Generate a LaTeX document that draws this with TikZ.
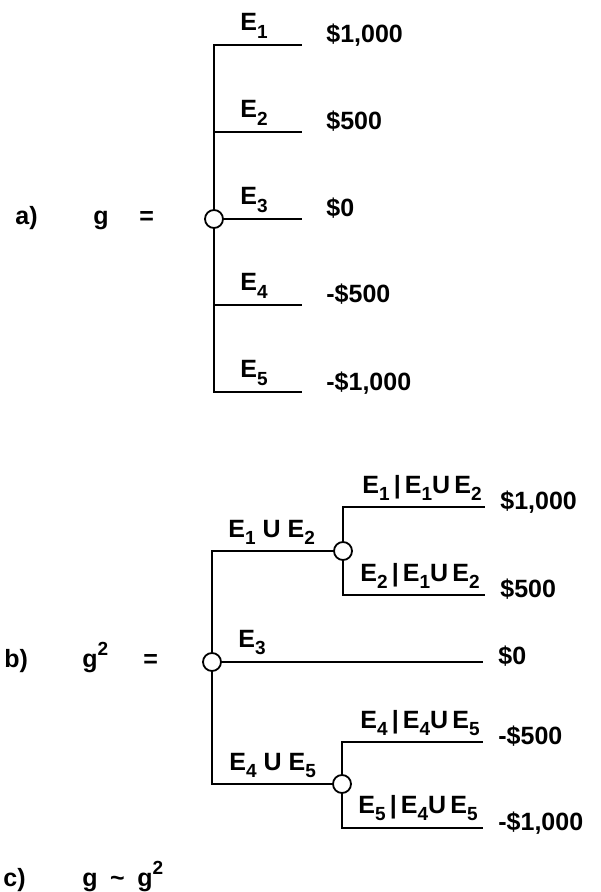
\documentclass[tikz,border=0pt]{standalone}
\usepackage{fontspec}
\setmainfont{Liberation Sans}
\usetikzlibrary{calc}
\newcommand{\Ev}[1]{E\raisebox{-0.3em}{\fontsize{9.5}{10}\selectfont #1}}
\newcommand{\Sq}{\raisebox{0.45em}{\fontsize{9.5}{10}\selectfont 2}}
\newcommand{\Cond}[3]{\Ev{#1}\,|\,\Ev{#2}U\,\Ev{#3}}

\begin{document}
\begin{tikzpicture}[x=0.5pt, y=-0.5pt,
    chance/.style={circle, draw, fill=white, line width=0.9pt, inner sep=0pt, minimum size=9pt},
    branch/.style={line width=0.9pt},
    txt/.style={font=\fontsize{12.5}{14}\selectfont\bfseries, inner sep=0pt, anchor=base west},
  ]
  \useasboundingbox (0,0) rectangle (600,892);

  % a) the gamble g
  \node[txt] (la) at (15,225) {a)};
  \node[txt] (ga) at (93,225) {g};
  \node[txt] (eqa) at (139,225) {=};
  \node[chance] (ca) at (214,219) {};
  \foreach \i/\y/\v in {1/45/{\$1,000}, 2/132/{\$500}, 3/219/{\$0}, 4/305/{-\$500}, 5/392/{-\$1,000}} {
    \coordinate (a\i) at (302,\y);
    \node[txt] (ea\i) at (240,\y-14) {\Ev{\i}};
    \node[txt] (va\i) at (326,\y-2) {\v};
  }
  \draw[branch] (ca.north) |- (a1);
  \draw[branch] (ca.north) |- (a2);
  \draw[branch] (ca.east) -- (a3);
  \draw[branch] (ca.south) |- (a4);
  \draw[branch] (ca.south) |- (a5);

  % b) the two-stage gamble g^2
  \node[txt] (lb) at (4,667) {b)};
  \node[txt] (gb) at (82,667) {g\Sq};
  \node[txt] (eqb) at (143,667) {=};
  \node[chance] (cb) at (212,662) {};
  \node[chance] (cu) at (343,551) {};
  \node[chance] (cl) at (342,784) {};
  \coordinate (b3) at (483,662);
  \coordinate (u1) at (485,507);
  \coordinate (u2) at (485,595);
  \coordinate (l1) at (483,742);
  \coordinate (l2) at (483,828);
  \draw[branch] (cb.north) |- (cu.west);
  \draw[branch] (cb.east) -- (b3);
  \draw[branch] (cb.south) |- (cl.west);
  \draw[branch] (cu.north) |- (u1);
  \draw[branch] (cu.south) |- (u2);
  \draw[branch] (cl.north) |- (l1);
  \draw[branch] (cl.south) |- (l2);

  \node[txt] (eu) at (228,537) {\Ev{1} U \Ev{2}};
  \node[txt] (e3) at (238,647) {\Ev{3}};
  \node[txt] (el) at (229,770) {\Ev{4} U \Ev{5}};
  \node[txt] (eu1) at (362,493) {\Cond{1}{1}{2}};
  \node[txt] (eu2) at (360,581) {\Cond{2}{1}{2}};
  \node[txt] (el1) at (360,728) {\Cond{4}{4}{5}};
  \node[txt] (el2) at (358,813) {\Cond{5}{4}{5}};

  \node[txt] (vu1) at (500,509) {\$1,000};
  \node[txt] (vu2) at (500,597) {\$500};
  \node[txt] (vb3) at (498,664) {\$0};
  \node[txt] (vl1) at (498,744) {-\$500};
  \node[txt] (vl2) at (498,830) {-\$1,000};

  % c) equivalence
  \node[txt] (lc) at (3,886) {c)};
  \node[txt] (gc) at (82,886) {g\hspace{0.5em}\textasciitilde\hspace{0.5em}g\Sq};
\end{tikzpicture}
\end{document}
